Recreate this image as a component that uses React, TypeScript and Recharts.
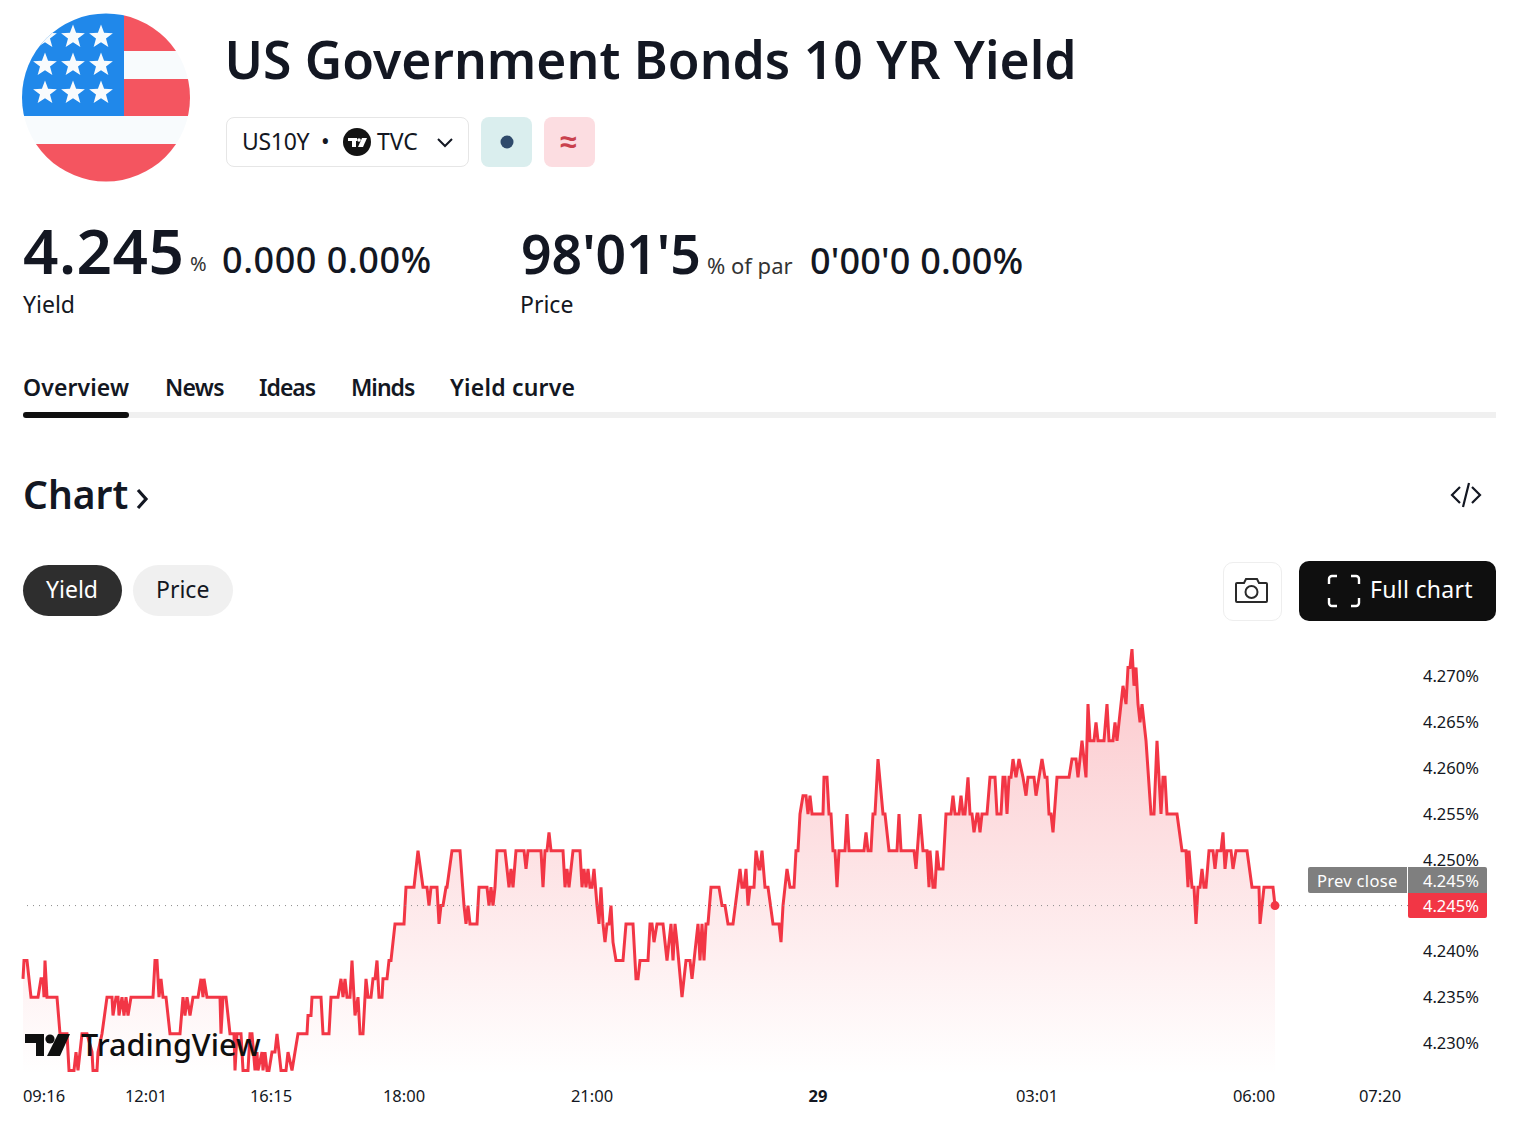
import React from "react";
import { ComposedChart, Area, XAxis, YAxis, ReferenceLine, ReferenceDot } from "recharts";

// position along TradingView's session time axis, in bar units
const barPositions = [
  0, 1, 4, 8, 15, 18, 20, 21, 22, 24,
  34, 37, 44, 46, 51, 53, 55, 59, 64, 69,
  70, 74, 75, 79, 84, 89, 90, 93, 95, 96,
  99, 101, 103, 105, 108, 130, 132, 134, 136, 138,
  140, 143, 147, 157, 160, 162, 164, 167, 170, 175,
  178, 180, 181, 184, 197, 198, 200, 203, 207, 211,
  212, 214, 218, 220, 225, 227, 229, 232, 234, 235,
  239, 240, 242, 244, 246, 249, 252, 254, 258, 263,
  265, 269, 272, 275, 284, 285, 288, 289, 298, 300,
  306, 308, 315, 318, 320, 322, 324, 327, 329, 332,
  335, 337, 340, 343, 345, 348, 350, 352, 354, 356,
  359, 360, 364, 366, 368, 372, 381, 383, 391, 395,
  400, 404, 406, 408, 414, 416, 418, 420, 423, 424,
  429, 437, 441, 443, 445, 447, 454, 456, 464, 466,
  468, 470, 472, 474, 482, 486, 488, 490, 493, 501,
  503, 505, 518, 520, 522, 524, 526, 528, 540, 542,
  544, 546, 550, 557, 559, 561, 563, 565, 567, 569,
  571, 574, 576, 578, 580, 582, 584, 586, 588, 590,
  593, 600, 603, 610, 613, 615, 617, 625, 627, 629,
  631, 634, 640, 644, 648, 650, 652, 654, 659, 663,
  667, 669, 675, 677, 679, 681, 683, 685, 688, 696,
  699, 702, 705, 710, 717, 719, 721, 723, 725, 727,
  731, 733, 736, 737, 739, 742, 745, 750, 756, 758,
  760, 764, 767, 771, 773, 775, 777, 780, 783, 785,
  787, 789, 800, 801, 804, 806, 808, 810, 812, 814,
  816, 822, 824, 826, 841, 843, 845, 848, 850, 852,
  855, 860, 862, 866, 874, 876, 878, 891, 893, 897,
  900, 904, 906, 907, 910, 912, 914, 916, 920, 923,
  928, 930, 932, 936, 938, 940, 942, 945, 947, 949,
  951, 954, 955, 957, 959, 964, 967, 972, 974, 978,
  980, 982, 984, 986, 988, 990, 993, 996, 1000, 1003,
  1005, 1011, 1013, 1016, 1019, 1022, 1024, 1026, 1028, 1030,
  1034, 1046, 1049, 1053, 1055, 1059, 1063, 1065, 1067, 1071,
  1073, 1075, 1081, 1084, 1086, 1090, 1092, 1094, 1100, 1103,
  1105, 1107, 1109, 1111, 1113, 1115, 1117, 1119, 1123, 1128,
  1131, 1134, 1138, 1140, 1142, 1144, 1154, 1159, 1163, 1165,
  1166, 1169, 1171, 1173, 1175, 1177, 1179, 1181, 1183, 1186,
  1190, 1192, 1194, 1198, 1200, 1202, 1204, 1208, 1210, 1213,
  1224, 1229, 1236, 1237, 1241, 1250, 1252,
];

const yields = [
  4.237, 4.239, 4.239, 4.235, 4.235, 4.237, 4.237, 4.235, 4.239, 4.235,
  4.235, 4.231, 4.231, 4.227, 4.227, 4.229, 4.227, 4.231, 4.231, 4.229,
  4.227, 4.227, 4.229, 4.231, 4.235, 4.235, 4.233, 4.235, 4.235, 4.233,
  4.235, 4.233, 4.235, 4.233, 4.235, 4.235, 4.239, 4.239, 4.235, 4.237,
  4.235, 4.235, 4.231, 4.231, 4.235, 4.233, 4.235, 4.233, 4.235, 4.235,
  4.237, 4.235, 4.237, 4.235, 4.235, 4.231, 4.235, 4.235, 4.231, 4.231,
  4.227, 4.231, 4.231, 4.227, 4.227, 4.231, 4.231, 4.227, 4.229, 4.227,
  4.229, 4.227, 4.229, 4.227, 4.227, 4.229, 4.229, 4.231, 4.227, 4.227,
  4.229, 4.227, 4.229, 4.231, 4.231, 4.233, 4.233, 4.235, 4.235, 4.231,
  4.231, 4.235, 4.235, 4.237, 4.235, 4.237, 4.235, 4.235, 4.239, 4.233,
  4.235, 4.231, 4.231, 4.237, 4.235, 4.235, 4.237, 4.237, 4.239, 4.235,
  4.235, 4.237, 4.237, 4.239, 4.239, 4.243, 4.243, 4.247, 4.247, 4.251,
  4.247, 4.247, 4.245, 4.247, 4.247, 4.243, 4.245, 4.245, 4.247, 4.247,
  4.251, 4.251, 4.245, 4.243, 4.245, 4.243, 4.243, 4.247, 4.247, 4.245,
  4.247, 4.245, 4.247, 4.251, 4.251, 4.247, 4.249, 4.247, 4.251, 4.251,
  4.249, 4.251, 4.251, 4.247, 4.251, 4.251, 4.253, 4.251, 4.251, 4.247,
  4.249, 4.247, 4.251, 4.251, 4.247, 4.249, 4.247, 4.249, 4.247, 4.247,
  4.249, 4.245, 4.243, 4.247, 4.243, 4.241, 4.243, 4.243, 4.245, 4.241,
  4.239, 4.239, 4.243, 4.243, 4.237, 4.237, 4.239, 4.239, 4.243, 4.243,
  4.241, 4.243, 4.243, 4.239, 4.243, 4.239, 4.243, 4.241, 4.235, 4.239,
  4.239, 4.237, 4.243, 4.239, 4.243, 4.239, 4.243, 4.243, 4.247, 4.247,
  4.245, 4.245, 4.243, 4.243, 4.249, 4.247, 4.247, 4.249, 4.245, 4.247,
  4.247, 4.251, 4.249, 4.249, 4.251, 4.247, 4.247, 4.243, 4.243, 4.241,
  4.245, 4.249, 4.247, 4.247, 4.251, 4.251, 4.255, 4.257, 4.257, 4.255,
  4.257, 4.255, 4.255, 4.259, 4.259, 4.255, 4.255, 4.251, 4.251, 4.247,
  4.251, 4.251, 4.255, 4.251, 4.251, 4.253, 4.251, 4.251, 4.255, 4.255,
  4.261, 4.255, 4.255, 4.251, 4.251, 4.255, 4.251, 4.251, 4.249, 4.255,
  4.251, 4.251, 4.247, 4.251, 4.247, 4.247, 4.251, 4.249, 4.249, 4.255,
  4.255, 4.257, 4.255, 4.255, 4.257, 4.255, 4.255, 4.259, 4.255, 4.255,
  4.253, 4.255, 4.255, 4.253, 4.255, 4.255, 4.259, 4.259, 4.255, 4.255,
  4.259, 4.259, 4.255, 4.259, 4.259, 4.261, 4.259, 4.261, 4.259, 4.257,
  4.259, 4.259, 4.257, 4.259, 4.261, 4.259, 4.259, 4.255, 4.255, 4.253,
  4.259, 4.259, 4.261, 4.261, 4.259, 4.263, 4.259, 4.267, 4.263, 4.263,
  4.265, 4.263, 4.263, 4.267, 4.263, 4.263, 4.265, 4.263, 4.269, 4.267,
  4.271, 4.271, 4.273, 4.269, 4.271, 4.267, 4.265, 4.267, 4.263, 4.255,
  4.255, 4.263, 4.255, 4.259, 4.259, 4.255, 4.255, 4.251, 4.251, 4.247,
  4.251, 4.247, 4.247, 4.243, 4.247, 4.247, 4.249, 4.247, 4.247, 4.251,
  4.251, 4.249, 4.251, 4.251, 4.253, 4.249, 4.251, 4.251, 4.249, 4.251,
  4.251, 4.247, 4.247, 4.243, 4.247, 4.247, 4.245,
];

const xTickPositions = [21, 123, 248, 381, 569, 795, 1014, 1231, 1357];
const xTickLabels = ["09:16", "12:01", "16:15", "18:00", "21:00", "29", "03:01", "06:00", "07:20"];
const yTicks = [4.23, 4.235, 4.24, 4.25, 4.255, 4.26, 4.265, 4.27];
const prevClose = 4.245;
const lastYield = 4.245;
const lastBar = 1252;

const chartData = barPositions.map((bar, i) => ({ bar, yield: yields[i] }));

const FONT = "'Noto Sans', sans-serif";
const RED = "#f23645";
const INK = "#131722";

function Txt({ x, cy, size, weight = 400, color = INK, spacing, children }: any) {
  return (
    <div
      style={{
        position: "absolute",
        left: x,
        top: cy - size * 0.6,
        height: size * 1.2,
        lineHeight: size * 1.2 + "px",
        fontSize: size,
        fontWeight: weight,
        color,
        letterSpacing: spacing,
        fontFamily: FONT,
        whiteSpace: "nowrap",
      }}
    >
      {children}
    </div>
  );
}

function Box({ x, y, w, h, bg, radius = 0, border }: any) {
  return (
    <div
      style={{
        position: "absolute",
        left: x,
        top: y,
        width: w,
        height: h,
        background: bg,
        borderRadius: radius,
        border,
        boxSizing: "border-box",
      }}
    />
  );
}

function starPoints(cx: number, cy: number, r: number) {
  const pts: string[] = [];
  for (let i = 0; i < 10; i++) {
    const rad = i % 2 === 0 ? r : r * 0.42;
    const a = (Math.PI / 5) * i - Math.PI / 2;
    pts.push(`${cx + rad * Math.cos(a)},${cy + rad * Math.sin(a)}`);
  }
  return pts.join(" ");
}

function Flag() {
  const stars: React.ReactNode[] = [];
  [37, 65, 93].forEach((cy) =>
    [45, 73, 101].forEach((cx) => stars.push(<polygon key={cx + "-" + cy} points={starPoints(cx, cy, 12.5)} fill="#f8fbfd" />))
  );
  return (
    <svg width={200} height={200} style={{ position: "absolute", left: 0, top: 0 }}>
      <defs>
        <clipPath id="flagClip">
          <circle cx={106} cy={97.5} r={84} />
        </clipPath>
      </defs>
      <g clipPath="url(#flagClip)">
        <rect x={20} y={10} width={175} height={175} fill="#f8fbfd" />
        <rect x={124} y={10} width={70} height={41} fill="#f45560" />
        <rect x={124} y={79} width={70} height={37} fill="#f45560" />
        <rect x={20} y={144} width={175} height={40} fill="#f45560" />
        <rect x={20} y={10} width={104} height={106} fill="#2088ea" />
        {stars}
      </g>
    </svg>
  );
}

function Header() {
  return (
    <>
      <Flag />
      <Txt x={224.5} cy={60} size={51.6} weight={600}>US Government Bonds 10 YR Yield</Txt>

      <Box x={226} y={117} w={243} h={50} bg="#fff" radius={8} border="1px solid #e6e6e6" />
      <Txt x={242} cy={142} size={23} spacing={-0.3}>US10Y</Txt>
      <Txt x={321} cy={142} size={23}>•</Txt>
      <svg width={30} height={30} style={{ position: "absolute", left: 342, top: 128 }}>
        <circle cx={15} cy={14} r={14} fill="#131313" />
        <rect x={6} y={10} width={9} height={3} fill="#fff" />
        <rect x={10} y={10} width={4} height={9} fill="#fff" />
        <circle cx={17} cy={12} r={1.8} fill="#fff" />
        <path d="M20 10h5l-4 9h-5z" fill="#fff" />
      </svg>
      <Txt x={377} cy={142} size={23}>TVC</Txt>
      <svg width={20} height={12} style={{ position: "absolute", left: 435, top: 137 }}>
        <path d="M3 2l7 7 7-7" fill="none" stroke={INK} strokeWidth={2} />
      </svg>
      <Box x={481} y={117} w={51} h={50} bg="#daeeee" radius={8} />
      <svg width={20} height={20} style={{ position: "absolute", left: 497, top: 132 }}>
        <circle cx={10} cy={10} r={6.5} fill="#2f4a6b" />
      </svg>
      <Box x={544} y={117} w={51} h={50} bg="#fcdde1" radius={8} />
      <Txt x={560} cy={141} size={30} weight={600} color="#c9414d">≈</Txt>

      <Txt x={23} cy={250} size={62} weight={600} spacing={0.5}>4.245</Txt>
      <Txt x={190} cy={264} size={20} color="#333">%</Txt>
      <Txt x={222} cy={260} size={36} weight={500} spacing={0.55}>0.000 0.00%</Txt>
      <Txt x={23} cy={305} size={23}>Yield</Txt>

      <Txt x={521} cy={254} size={53.5} weight={600}>98'01'5</Txt>
      <Txt x={707} cy={265} size={22} color="#333">% of par</Txt>
      <Txt x={810} cy={261} size={36} weight={500} spacing={0.2}>0'00'0 0.00%</Txt>
      <Txt x={520} cy={305} size={23}>Price</Txt>

      <Txt x={23} cy={388} size={23} weight={600} spacing={0.1}>Overview</Txt>
      <Txt x={165} cy={388} size={23} weight={600} spacing={-0.7}>News</Txt>
      <Txt x={259} cy={388} size={23} weight={600} spacing={-1}>Ideas</Txt>
      <Txt x={351} cy={388} size={23} weight={600} spacing={-1}>Minds</Txt>
      <Txt x={450} cy={388} size={23} weight={600} spacing={0.2}>Yield curve</Txt>
      <Box x={23} y={412} w={1473} h={6} bg="#f0f0f0" />
      <Box x={23} y={412} w={106} h={6} bg="#0f0f0f" radius={3} />

      <Txt x={23} cy={494} size={39} weight={600}>Chart</Txt>
      <svg width={16} height={22} style={{ position: "absolute", left: 135, top: 488 }}>
        <path d="M3 2l8 9-8 9" fill="none" stroke={INK} strokeWidth={3.2} />
      </svg>
      <svg width={32} height={28} style={{ position: "absolute", left: 1450, top: 481 }}>
        <path d="M10 6l-8 8 8 8M22 6l8 8-8 8M19 2l-6 24" fill="none" stroke={INK} strokeWidth={2.2} />
      </svg>

      <Box x={23} y={565} w={99} h={51} bg="#2e2e2e" radius={26} />
      <Txt x={46} cy={590} size={23} color="#fff">Yield</Txt>
      <Box x={133} y={565} w={100} h={51} bg="#f0f0f0" radius={26} />
      <Txt x={156} cy={590} size={23}>Price</Txt>

      <Box x={1223} y={562} w={59} h={59} bg="#fff" radius={10} border="1px solid #eeeeee" />
      <svg width={36} height={30} style={{ position: "absolute", left: 1234, top: 576 }}>
        <path
          d="M3 7h7l2-4h11l2 4h7a1 1 0 0 1 1 1v17a1 1 0 0 1-1 1H3a1 1 0 0 1-1-1V8a1 1 0 0 1 1-1z"
          fill="none"
          stroke="#2a2a2a"
          strokeWidth={2}
        />
        <circle cx={17.5} cy={16} r={6} fill="none" stroke="#2a2a2a" strokeWidth={2} />
      </svg>
      <Box x={1299} y={561} w={197} h={60} bg="#0f0f0f" radius={10} />
      <svg width={34} height={34} style={{ position: "absolute", left: 1327, top: 574 }}>
        <path
          d="M10 2H5a3 3 0 0 0-3 3v5M24 2h5a3 3 0 0 1 3 3v5M10 32H5a3 3 0 0 1-3-3v-5M24 32h5a3 3 0 0 0 3-3v-5"
          fill="none"
          stroke="#fff"
          strokeWidth={2.4}
        />
      </svg>
      <Txt x={1370} cy={590} size={23} color="#fff" spacing={0.3}>Full chart</Txt>
    </>
  );
}

function XTick({ x, y, payload }: any) {
  const i = xTickPositions.indexOf(payload.value);
  const label = xTickLabels[i];
  return (
    <text x={x} y={y} dy={17} textAnchor="middle" fontSize={16.5} fontFamily={FONT} fontWeight={label === "29" ? 700 : 400} fill={INK}>
      {label}
    </text>
  );
}

function PriceTags() {
  return (
    <>
      <Box x={1308} y={867} w={99} h={26} bg="#7f7f7f" radius="2px 0 0 2px" />
      <Txt x={1317} cy={881} size={16.5} color="#fff" spacing={0.3}>Prev close</Txt>
      <Box x={1408} y={867} w={79} h={26} bg="#7f7f7f" radius="0 2px 0 0" />
      <Txt x={1423} cy={881} size={16.5} color="#fff">4.245%</Txt>
      <Box x={1408} y={893} w={79} h={25} bg={RED} radius="0 0 2px 2px" />
      <Txt x={1423} cy={906} size={16.5} color="#fff">4.245%</Txt>
    </>
  );
}

function Watermark() {
  return (
    <>
      <svg width={46} height={24} style={{ position: "absolute", left: 25, top: 1033 }}>
        <path d="M0 1h19v22h-8V10H0z" fill="#0f0f0f" />
        <circle cx={25} cy={6} r={4.6} fill="#0f0f0f" />
        <path d="M33 1h12l-10 22H22z" fill="#0f0f0f" />
      </svg>
      <Txt x={81} cy={1044} size={30.6} weight={500} color="#0f0f0f">TradingView</Txt>
    </>
  );
}

export default function App() {
  return (
    <div style={{ position: "absolute", left: 0, top: 0, width: 1536, height: 1123, background: "#fff", overflow: "hidden" }}>
      <Header />
      <div style={{ position: "absolute", left: 0, top: 0 }}>
        <ComposedChart width={1536} height={1123} data={chartData} margin={{ top: 640, right: 0, bottom: 0, left: 23 }}>
          <defs>
            <linearGradient id="yieldFill" x1="0" y1="0" x2="0" y2="1">
              <stop offset="0%" stopColor={RED} stopOpacity={0.28} />
              <stop offset="100%" stopColor={RED} stopOpacity={0} />
            </linearGradient>
          </defs>
          <XAxis
            dataKey="bar"
            type="number"
            domain={[0, 1385]}
            ticks={xTickPositions}
            interval={0}
            height={48}
            axisLine={false}
            tickLine={false}
            tick={<XTick />}
            tickMargin={4}
          />
          <YAxis
            orientation="right"
            type="number"
            domain={[4.2265, 4.274]}
            ticks={yTicks}
            interval={0}
            width={128}
            axisLine={false}
            tickLine={false}
            tickMargin={9}
            tickFormatter={(v: number) => v.toFixed(3) + "%"}
            tick={{ fontSize: 16.5, fontFamily: FONT, fill: INK }}
          />
          <ReferenceLine y={prevClose} stroke="#8a8a8a" strokeDasharray="1 5" strokeWidth={1} />
          <Area
            dataKey="yield"
            type="linear"
            stroke={RED}
            strokeWidth={3}
            fill="url(#yieldFill)"
            fillOpacity={1}
            dot={false}
            activeDot={false}
            isAnimationActive={false}
          />
          <ReferenceDot x={lastBar} y={lastYield} r={4.5} fill={RED} stroke="none" />
        </ComposedChart>
      </div>
      <Watermark />
      <PriceTags />
    </div>
  );
}
